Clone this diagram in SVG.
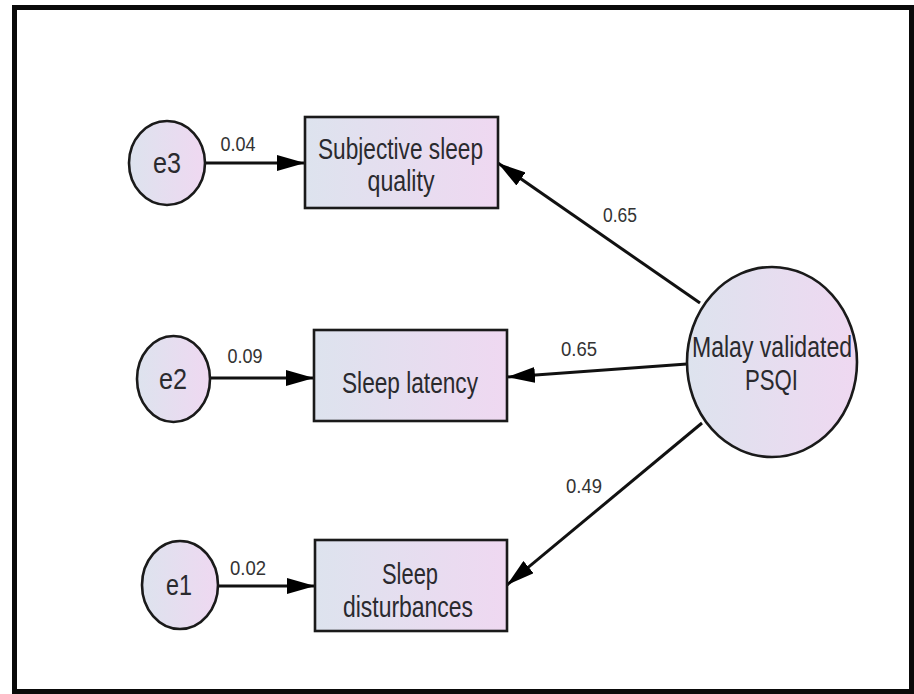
<svg xmlns="http://www.w3.org/2000/svg" width="914" height="694" viewBox="0 0 914 694">
<style>
.node{fill:url(#g);stroke:#1a1a1a;stroke-width:2.6}
.t{font-family:"Liberation Sans",Arial,sans-serif;font-size:29px;fill:#2a2a2e;text-anchor:middle}
.lbl{font-family:"Liberation Sans",Arial,sans-serif;font-size:20px;fill:#333;text-anchor:middle}
.edge{stroke:#111;stroke-width:3;fill:none;marker-end:url(#ah)}
</style>
<defs>
<linearGradient id="g" x1="0" y1="0" x2="1" y2="0">
<stop offset="0" stop-color="#dde3ee"/>
<stop offset="1" stop-color="#efd8f1"/>
</linearGradient>
<marker id="ah" markerUnits="userSpaceOnUse" markerWidth="28" markerHeight="16" refX="28" refY="8" orient="auto">
<path d="M0,0 L28,8 L0,16 z" fill="#000"/>
</marker>
</defs>
<rect x="0" y="0" width="914" height="694" fill="#fff"/>
<rect x="14.5" y="7.5" width="897" height="684" fill="#fff" stroke="#0a0a0a" stroke-width="5"/>
<g id="connectors">
<line class="edge" x1="205" y1="163" x2="305" y2="163"/>
<line class="edge" x1="210" y1="378" x2="314" y2="378"/>
<line class="edge" x1="218" y1="586" x2="315" y2="586"/>
<line class="edge" x1="700" y1="303" x2="498" y2="163"/>
<line class="edge" x1="687" y1="364" x2="507" y2="377"/>
<line class="edge" x1="702" y1="423" x2="507" y2="585"/>
<text class="lbl" x="238" y="151" textLength="35" lengthAdjust="spacingAndGlyphs">0.04</text>
<text class="lbl" x="245" y="363" textLength="35" lengthAdjust="spacingAndGlyphs">0.09</text>
<text class="lbl" x="248" y="575" textLength="36" lengthAdjust="spacingAndGlyphs">0.02</text>
<text class="lbl" x="620" y="222" textLength="34" lengthAdjust="spacingAndGlyphs">0.65</text>
<text class="lbl" x="579" y="356" textLength="36" lengthAdjust="spacingAndGlyphs">0.65</text>
<text class="lbl" x="584" y="493" textLength="36" lengthAdjust="spacingAndGlyphs">0.49</text>
</g>
<g id="e3">
<ellipse class="node" cx="167" cy="163" rx="38" ry="42"/>
<text class="t" x="167" y="173" textLength="28" lengthAdjust="spacingAndGlyphs">e3</text>
</g>
<g id="e2">
<ellipse class="node" cx="173.5" cy="379" rx="36.5" ry="43"/>
<text class="t" x="173" y="389" textLength="28" lengthAdjust="spacingAndGlyphs">e2</text>
</g>
<g id="e1">
<ellipse class="node" cx="180" cy="585" rx="38" ry="44"/>
<text class="t" x="179" y="595" textLength="26" lengthAdjust="spacingAndGlyphs">e1</text>
</g>
<g id="subjective">
<rect class="node" x="305" y="117" width="193" height="91"/>
<text class="t" x="400.5" y="159" textLength="165" lengthAdjust="spacingAndGlyphs">Subjective sleep</text>
<text class="t" x="401" y="191" textLength="67" lengthAdjust="spacingAndGlyphs">quality</text>
</g>
<g id="latency">
<rect class="node" x="314" y="330" width="193" height="91"/>
<text class="t" x="410" y="393" textLength="136" lengthAdjust="spacingAndGlyphs">Sleep latency</text>
</g>
<g id="disturbances">
<rect class="node" x="315" y="540" width="192" height="91"/>
<text class="t" x="410" y="584" textLength="56" lengthAdjust="spacingAndGlyphs">Sleep</text>
<text class="t" x="408" y="617" textLength="130" lengthAdjust="spacingAndGlyphs">disturbances</text>
</g>
<g id="psqi">
<ellipse class="node" cx="772" cy="362" rx="85" ry="95"/>
<text class="t" x="772" y="357" textLength="160" lengthAdjust="spacingAndGlyphs">Malay validated</text>
<text class="t" x="771.5" y="390" textLength="53" lengthAdjust="spacingAndGlyphs">PSQI</text>
</g>
</svg>
